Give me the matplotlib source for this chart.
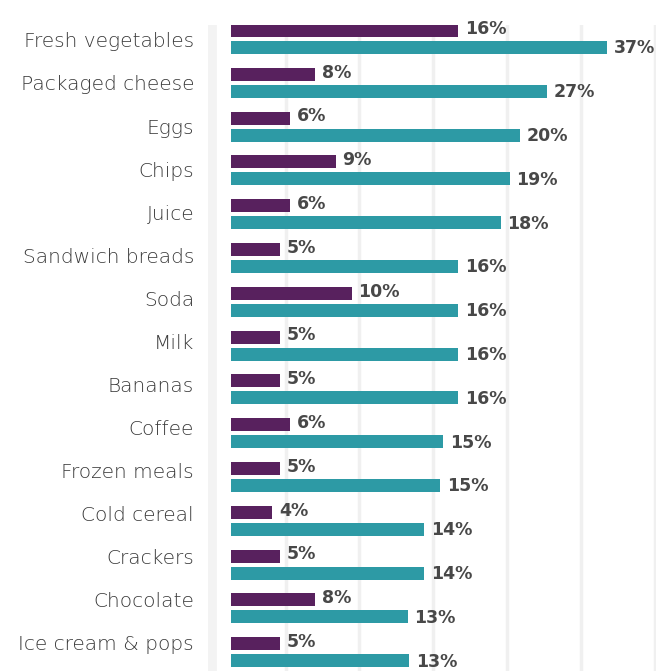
import matplotlib.pyplot as plt
import numpy as np

# Categories, top to bottom
categories = ['Fresh vegetables', 'Packaged cheese', 'Eggs', 'Chips', 'Juice',
              'Sandwich breads', 'Soda', 'Milk', 'Bananas', 'Coffee',
              'Frozen meals', 'Cold cereal', 'Crackers', 'Chocolate',
              'Ice cream & pops']

# Printed value labels
purple_labels = [16, 8, 6, 9, 6, 5, 10, 5, 5, 6, 5, 4, 5, 8, 5]
teal_labels = [37, 27, 20, 19, 18, 16, 16, 16, 16, 15, 15, 14, 14, 13, 13]

# Bar lengths as drawn in the picture (grid step = 5 units)
purple_len = [15.4, 5.7, 4.0, 7.1, 4.0, 3.3, 8.2, 3.3, 3.3, 4.0, 3.3, 2.8, 3.3, 5.7, 3.3]
teal_len = [25.5, 21.4, 19.6, 18.9, 18.3, 15.4, 15.4, 15.4, 15.4, 14.4, 14.2, 13.1, 13.1, 12.0, 12.1]

purple = '#58215E'
teal = '#2D9AA5'
bar_start = 1.28

fig = plt.figure(figsize=(6.56, 6.71), dpi=100)
ax = fig.add_axes([208 / 656, 0, 448 / 656, 646 / 671])

y = np.arange(len(categories))
h = 0.297
off = 0.194

ax.barh(y - off, purple_len, height=h, left=bar_start, color=purple, zorder=3)
ax.barh(y + off, teal_len, height=h, left=bar_start, color=teal, zorder=3)

for i in range(len(categories)):
    ax.text(bar_start + purple_len[i] + 0.45, y[i] - off - 0.04, f'{purple_labels[i]}%',
            va='center', ha='left', fontsize=12.5, fontweight='bold', color='#484848')
    ax.text(bar_start + teal_len[i] + 0.45, y[i] + off + 0.02, f'{teal_labels[i]}%',
            va='center', ha='left', fontsize=12.5, fontweight='bold', color='#484848')

# vertical gridlines
for gx in np.arange(5, 35, 5):
    ax.axvline(gx, color='#f0f0f0', lw=2.5, zorder=0)
ax.axvline(0, color='#f3f3f3', lw=7, zorder=0)

ax.set_xlim(-0.27, 30.1)
ax.set_ylim(14.43, -0.32)
# category labels sit on a slightly tighter pitch than the bars
ax.set_yticks(y * 0.9834 + 0.02)
ax.set_yticklabels(categories, fontsize=14.5, color='#3a3a3a', fontweight='light')
ax.tick_params(axis='y', length=0, pad=10)
ax.set_xticks([])
for s in ax.spines.values():
    s.set_visible(False)

fig.savefig('out.png', dpi=100)
